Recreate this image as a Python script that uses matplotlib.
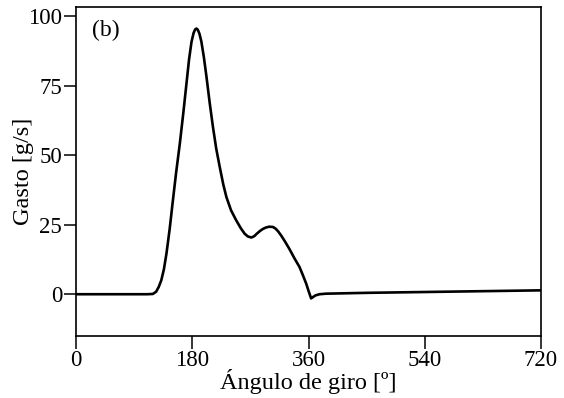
import matplotlib
matplotlib.use("Agg")
import matplotlib.pyplot as plt

# Crank angle [deg] and mass flow [g/s]
angle = [0, 60, 110, 119, 124, 128, 132, 136, 140, 145, 150, 155, 160.7, 166, 171,
         175, 178.8, 182, 184.5, 186.5, 188.5, 191, 194, 198, 202, 207, 212, 217,
         222.5, 228, 232.8, 240, 248, 255, 261, 266, 271.4, 276, 280, 285, 289.4,
         294, 299, 305, 309, 313, 318, 324, 330.6, 338, 346, 351, 356.4, 360,
         364, 367, 371, 377, 387, 450, 540, 630, 720]
flow = [0, 0, 0, 0.1, 0.9, 2.6, 5.0, 8.9, 14.6, 23.5, 33.8, 43.8, 54.2, 65.0, 75.8,
        84.5, 90.8, 94.0, 95.3, 95.6, 95.2, 93.8, 91.0, 85.2, 78.2, 68.8, 60.2,
        52.5, 45.8, 39.5, 35.0, 30.2, 26.6, 23.8, 21.8, 20.8, 20.4, 20.9, 21.8,
        22.8, 23.5, 24.0, 24.3, 24.2, 23.6, 22.6, 21.0, 18.8, 16.2, 13.0, 9.8,
        7.0, 3.8, 1.2, -1.5, -1.0, -0.4, 0.0, 0.2, 0.5, 0.8, 1.1, 1.4]

xticks = [0, 180, 360, 540, 720]
yticks = [0, 25, 50, 75, 100]

plt.rcParams["font.family"] = ["Liberation Serif", "DejaVu Serif"]

fig = plt.figure(figsize=(5.64, 3.98), dpi=100)
ax = fig.add_axes([0.1348, 0.156, 0.8245, 0.826])

ax.plot(angle, flow, color="black", lw=1.9, solid_joinstyle="round",
        solid_capstyle="round")

ax.set_xlim(0, 720)
ax.set_ylim(-15, 103.3)
ax.set_xticks(xticks)
ax.set_yticks(yticks)
ax.tick_params(axis="both", direction="out", length=9, width=1.1,
               labelsize=16.5, pad=1, colors="black")
for s in ax.spines.values():
    s.set_linewidth(1.2)

ax.set_xlabel("Ángulo de giro [º]", fontsize=17.5, labelpad=-1)
ax.set_ylabel("Gasto [g/s]", fontsize=17.5, labelpad=-4)
ax.text(0.035, 0.96, "(b)", transform=ax.transAxes, fontsize=17,
        ha="left", va="top")

fig.savefig("out.png", dpi=100)
